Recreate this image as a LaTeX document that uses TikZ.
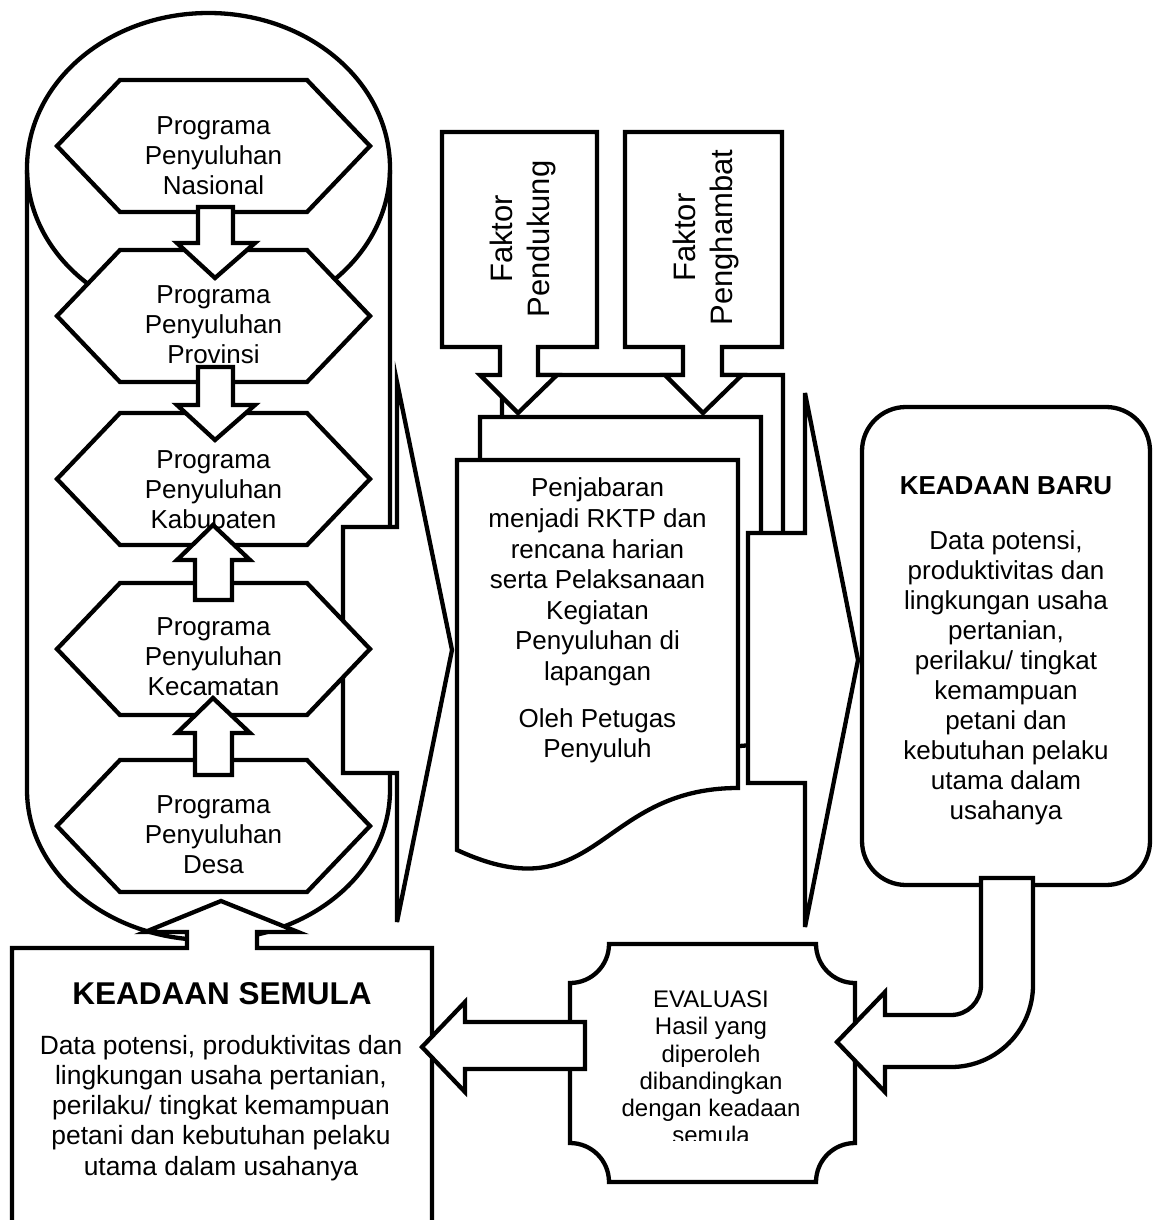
\documentclass[tikz,border=0pt]{standalone}
\usepackage{fontspec}
\setmainfont{Liberation Sans}
\begin{document}
\begin{tikzpicture}[x=1pt,y=-1pt,line width=4.3pt,
  every node/.style={inner sep=0pt, align=center},
  shp/.style={draw=black, fill=white, line join=miter},
  txt/.style={font=\fontsize{26}{30}\selectfont, anchor=north},
  hexa/.pic={\draw[shp] (-93.5,-66) -- (93.5,-66) -- (156.5,0) -- (93.5,66) -- (-93.5,66) -- (-156.5,0) -- cycle;},
  docpage/.pic={\draw[shp] (0,0) -- (281,0) -- (281,328) .. controls (140.5,328) and (140.5,455) .. (0,390) -- cycle;}
]
\useasboundingbox (0,0) rectangle (1153,1220);
\clip (0,0) rectangle (1153,1220);
\fill[white] (0,0) rectangle (1153,1220);

% container: circle top and long rounded body
\draw (208.5,168) ellipse [x radius=181.5, y radius=155];
\draw (27,170) -- (27,790) arc[start angle=180,end angle=0,x radius=181.5,y radius=150] -- (390,170);

% big right arrow (left)
\draw[shp] (343,527) -- (397,527) -- (397,382) -- (452,650) -- (397,922) -- (397,773) -- (343,773) -- cycle;

% hexagons
\pic at (213.5,146) {hexa};
\node[txt] (nas) at (213.5,114.4) {Programa\\Penyuluhan\\Nasional};
\pic at (213.5,316) {hexa};
\node[txt] (prov) at (213.5,283.4) {Programa\\Penyuluhan\\Provinsi};
\pic at (213.5,479) {hexa};
\node[txt] (kab) at (213.5,448.4) {Programa\\Penyuluhan\\Kabupaten};
\pic at (213.5,649) {hexa};
\node[txt] (kec) at (213.5,615.4) {Programa\\Penyuluhan\\Kecamatan};
\pic at (213.5,826) {hexa};
\node[txt] (desa) at (213.5,793.4) {Programa\\Penyuluhan\\Desa};

% small block arrows
\draw[shp] (198,207) -- (233,207) -- (233,243) -- (255,243) -- (215,278) -- (177,243) -- (198,243) -- cycle;
\draw[shp] (198,367) -- (233,367) -- (233,405) -- (255,405) -- (215,440) -- (177,405) -- (198,405) -- cycle;
\draw[shp] (195,600) -- (232,600) -- (232,560) -- (250,560) -- (213,525) -- (177,560) -- (195,560) -- cycle;
\draw[shp] (195,775) -- (232,775) -- (232,733) -- (250,733) -- (213,698) -- (177,733) -- (195,733) -- cycle;

% document stack (back page)
\pic at (502,375) {docpage};

% Faktor callouts
\draw[shp] (442,132) -- (597,132) -- (597,347) -- (538,347) -- (538,375) -- (557,375) -- (518,413) -- (480,375) -- (500,375) -- (500,347) -- (442,347) -- cycle;
\node[font=\fontsize{31}{37}\selectfont, rotate=90] (fpend) at (522.5,239) {Faktor\\Pendukung};
\draw[shp] (625,132) -- (782,132) -- (782,347) -- (722,347) -- (722,375) -- (742,375) -- (703,413) -- (665,375) -- (683,375) -- (683,347) -- (625,347) -- cycle;
\node[font=\fontsize{31}{37}\selectfont, rotate=90] (fhamb) at (706,237.5) {Faktor\\Penghambat};

% middle and front pages
\pic at (480,417) {docpage};
\pic at (457,460) {docpage};
\node[txt, font=\fontsize{26}{30.6}\selectfont] (doc) at (597.5,476) {Penjabaran\\menjadi RKTP dan\\rencana harian\\serta Pelaksanaan\\Kegiatan\\Penyuluhan di\\lapangan\\[16pt]Oleh Petugas\\Penyuluh};

% big right arrow (middle)
\draw[shp] (748,533) -- (805,533) -- (805,393) -- (858,660) -- (805,927) -- (805,783) -- (748,783) -- cycle;

% KEADAAN BARU
\draw[shp, rounded corners=44pt] (862,407) rectangle (1150,885);
\node[txt, font=\bfseries\fontsize{26}{30}\selectfont] (kbt) at (1006,474.4) {KEADAAN BARU};
\node[txt] (kbb) at (1006,528.4) {Data potensi,\\produktivitas dan\\lingkungan usaha\\pertanian,\\perilaku/ tingkat\\kemampuan\\petani dan\\kebutuhan pelaku\\utama dalam\\usahanya};

% KEADAAN SEMULA callout
\draw[shp] (12,1240) -- (12,948) -- (187,948) -- (187,932) -- (145,932) -- (221,901) -- (298,932) -- (257,932) -- (257,948) -- (432,948) -- (432,1240);
\node[txt, font=\bfseries\fontsize{31.5}{36}\selectfont] (kst) at (222,980.4) {KEADAAN SEMULA};
\node[txt, font=\fontsize{26.4}{30.2}\selectfont] (ksb) at (221,1033) {Data potensi, produktivitas dan\\lingkungan usaha pertanian,\\perilaku/ tingkat kemampuan\\petani dan kebutuhan pelaku\\utama dalam usahanya};

% EVALUASI plaque
\draw[shp] (609,944) -- (816,944) arc[start angle=180,end angle=90,radius=39]
  -- (855,1143) arc[start angle=270,end angle=180,radius=39]
  -- (609,1182) arc[start angle=0,end angle=-90,radius=39]
  -- (570,983) arc[start angle=90,end angle=0,radius=39] -- cycle;
\begin{scope}
\clip (572,946) rectangle (853,1140);
\node[txt, font=\fontsize{24}{27.2}\selectfont] (eval) at (711,988.8) {EVALUASI\\Hasil yang\\diperoleh\\dibandingkan\\dengan keadaan\\semula};
\end{scope}

% U-turn arrow from KEADAAN BARU to EVALUASI
\draw[shp] (981,878) -- (1033,878) -- (1033,985) arc[start angle=0,end angle=90,radius=82]
  -- (885,1067) -- (885,1092) -- (837,1042) -- (885,992) -- (885,1015) -- (951,1015)
  arc[start angle=90,end angle=0,radius=30] -- cycle;

% arrow from EVALUASI to KEADAAN SEMULA
\draw[shp] (585,1022) -- (465,1022) -- (465,1002) -- (422,1047) -- (465,1092) -- (465,1069) -- (585,1069) -- cycle;
\end{tikzpicture}
\end{document}
